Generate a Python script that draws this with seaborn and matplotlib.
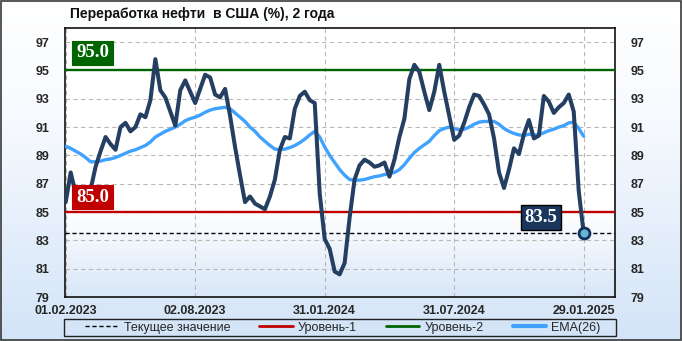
import numpy as np
import pandas as pd
import matplotlib
matplotlib.use("Agg")
import matplotlib.pyplot as plt
import matplotlib.transforms as mtransforms
from matplotlib.colors import LinearSegmentedColormap
from matplotlib.lines import Line2D
from matplotlib.patches import Rectangle
import seaborn as sns

# ---------------- data ----------------
title = "Переработка нефти  в США (%), 2 года"
start_date = "2023-02-01"
refining = [85.7, 87.8, 86.3, 85.7, 85.6, 86.6, 88.2, 89.3, 90.3, 89.8,
            89.4, 91.0, 91.3, 90.7, 91.0, 91.9, 91.7, 92.9, 95.8, 93.6,
            93.1, 92.1, 91.1, 93.6, 94.3, 93.5, 92.7, 93.7, 94.7, 94.5,
            93.3, 93.1, 93.7, 91.8, 89.6, 87.6, 85.7, 86.1, 85.6, 85.4,
            85.2, 86.1, 87.3, 89.4, 90.3, 90.2, 92.3, 93.2, 93.5, 92.9,
            92.7, 86.3, 83.1, 82.4, 80.8, 80.6, 81.4, 84.6, 87.3, 88.3,
            88.7, 88.5, 88.2, 88.3, 88.5, 87.5, 88.7, 90.3, 91.6, 94.4,
            95.4, 94.9, 93.5, 92.2, 93.5, 95.4, 93.5, 91.8, 90.1, 90.4,
            91.3, 92.4, 93.3, 93.2, 92.6, 91.9, 90.2, 87.8, 86.7, 88.0,
            89.5, 89.1, 90.5, 91.5, 90.2, 90.4, 93.2, 92.8, 92.0, 92.4,
            92.7, 93.3, 92.1, 86.5, 83.5]
ema26 = [89.65, 89.5, 89.3, 89.1, 88.85, 88.55, 88.55, 88.6, 88.7, 88.75,
         88.85, 89.0, 89.15, 89.3, 89.4, 89.55, 89.7, 89.95, 90.3, 90.5,
         90.7, 90.85, 91.0, 91.2, 91.45, 91.6, 91.7, 91.85, 92.05, 92.2,
         92.3, 92.35, 92.4, 92.3, 92.0, 91.7, 91.4, 91.0, 90.7, 90.3,
         90.0, 89.7, 89.45, 89.4, 89.45, 89.55, 89.7, 89.9, 90.15, 90.45,
         90.7, 90.3, 89.6, 89.0, 88.5, 88.0, 87.6, 87.3, 87.25, 87.25,
         87.3, 87.4, 87.5, 87.55, 87.65, 87.7, 87.8, 88.0, 88.35, 88.8,
         89.2, 89.5, 89.75, 90.0, 90.4, 90.75, 90.9, 91.0, 90.9, 90.8,
         90.85, 91.0, 91.2, 91.35, 91.4, 91.4, 91.4, 91.2, 90.9, 90.7,
         90.55, 90.45, 90.4, 90.5, 90.45, 90.45, 90.6, 90.75, 90.85, 91.0,
         91.1, 91.3, 91.35, 90.9, 90.35]
level_1 = 85.0
level_2 = 95.0
current_value = 83.5
y_ticks = [79, 81, 83, 85, 87, 89, 91, 93, 95, 97]
x_tick_dates = ["2023-02-01", "2023-08-02", "2024-01-31", "2024-07-31", "2025-01-29"]
x_tick_labels = ["01.02.2023", "02.08.2023", "31.01.2024", "31.07.2024", "29.01.2025"]
legend_labels = ["Текущее значение", "Уровень-1", "Уровень-2", "EMA(26)"]

dates = pd.date_range(start_date, periods=len(refining), freq="7D")
df = pd.DataFrame({"date": dates, "value": refining, "ema": ema26})

# ---------------- style ----------------
sns.set_style("white")
plt.rcParams["font.family"] = ["Liberation Sans", "DejaVu Sans"]

W, H = 682, 341
fig = plt.figure(figsize=(W / 100, H / 100), dpi=100)

# figure background gradient
bg = fig.add_axes([0, 0, 1, 1], zorder=-10)
grad = np.linspace(0, 1, 256).reshape(-1, 1)
cmap_bg = LinearSegmentedColormap.from_list(
    "bg", [(0, "#ffffff"), (0.35, "#f7fafe"), (1, "#d3e4f8")])
bg.imshow(grad, aspect="auto", cmap=cmap_bg, extent=[0, 1, 0, 1], origin="upper")
bg.set_xlim(0, 1); bg.set_ylim(0, 1)
bg.axis("off")
bg.add_patch(Rectangle((0.001, 0.002), 0.997, 0.995, fill=False,
                       edgecolor="#3a3a3a", lw=1.2, transform=bg.transAxes))
# legend frame
bg.add_patch(Rectangle((64 / W, 1 - 336 / H), 552 / W, 17 / H, fill=False,
                       edgecolor="#222222", lw=1.0, transform=bg.transAxes))

rect = [65 / W, 1 - 297 / H, 550 / W, 269 / H]
# plot area gradient
pa = fig.add_axes(rect, zorder=-5)
cmap_pa = LinearSegmentedColormap.from_list(
    "pa", [(0, "#ffffff"), (0.68, "#ffffff"), (1, "#d9e7f8")])
pa.imshow(grad, aspect="auto", cmap=cmap_pa, extent=[0, 1, 0, 1], origin="upper")
pa.set_xlim(0, 1); pa.set_ylim(0, 1)
pa.axis("off")

ax = fig.add_axes(rect, zorder=1)
ax.set_facecolor("none")

navy = "#243f62"
ema_col = "#3fa2ff"
red = "#c00000"
green = "#006400"

ax.axhline(current_value, color="black", ls=(0, (3, 2)), lw=1.0, zorder=3)
ax.axhline(level_1, color=red, lw=1.7, zorder=3)
ax.axhline(level_2, color=green, lw=1.7, zorder=3)

sns.lineplot(data=df, x="date", y="ema", color=ema_col, lw=2.4, ax=ax, zorder=4)
sns.lineplot(data=df, x="date", y="value", color=navy, lw=2.9, ax=ax, zorder=5)
ax.scatter([dates[-1]], [refining[-1]], s=62, facecolor="#62b8d4",
           edgecolor="#13305a", linewidth=2.0, zorder=6)

ax.set_ylim(79, 98)
ax.set_xlim(pd.Timestamp("2023-01-31"), pd.Timestamp("2025-03-14"))
ax.set_yticks(y_ticks)
ax.set_xticks(pd.to_datetime(x_tick_dates))
ax.set_xticklabels(x_tick_labels)
ax.set_xlabel("")
ax.set_ylabel("")
ax.grid(True, color="#b8b8b8", ls=(0, (4, 3)), lw=0.8)
ax.set_axisbelow(True)
for s in ax.spines.values():
    s.set_color("#111111")
    s.set_linewidth(1.2)
ax.tick_params(axis="y", length=0, pad=11, labelsize=9, labelleft=True,
               labelright=True)
ax.tick_params(axis="x", length=0, pad=6, labelsize=9)
for lbl in ax.get_xticklabels() + ax.get_yticklabels():
    lbl.set_fontweight("bold")
for t in ax.yaxis.get_major_ticks():
    t.label2.set_fontweight("bold")

# title
fig.text(70 / W, 1 - 14 / H, title, fontsize=10, fontweight="bold",
         ha="left", va="center", color="#111111")

# value labels
blend = mtransforms.blended_transform_factory(ax.transAxes, ax.transData)
lab_font = dict(family=["Liberation Serif", "DejaVu Serif"], fontsize=13.5,
                fontweight="bold", color="white", ha="center", va="center",
                zorder=8)
ax.text(0.0503, level_2 + 1.25, "%.1f" % level_2, transform=blend,
        bbox=dict(boxstyle="square,pad=0.2", fc=green, ec=green, lw=0.8),
        **lab_font)
ax.text(0.0503, level_1 + 1.06, "%.1f" % level_1, transform=blend,
        bbox=dict(boxstyle="square,pad=0.2", fc=red, ec=red, lw=0.8),
        **lab_font)
ax.text(0.865, current_value + 1.1, "%.1f" % current_value, transform=blend,
        bbox=dict(boxstyle="square,pad=0.2", fc="#1b365d", ec="black", lw=1.0),
        **lab_font)

# legend
handles = [Line2D([], [], color="black", ls=(0, (3, 2)), lw=1.0),
           Line2D([], [], color=red, lw=2.0),
           Line2D([], [], color=green, lw=2.0),
           Line2D([], [], color=ema_col, lw=3.0)]
leg = fig.legend(handles, legend_labels, ncol=4,
                 bbox_to_anchor=(343 / W, 1 - 327.5 / H),
                 loc="center", fontsize=9, frameon=False,
                 handlelength=2.65, handletextpad=0.45, borderaxespad=0,
                 borderpad=0.0, columnspacing=2.3)

fig.savefig("out.png", dpi=100)
